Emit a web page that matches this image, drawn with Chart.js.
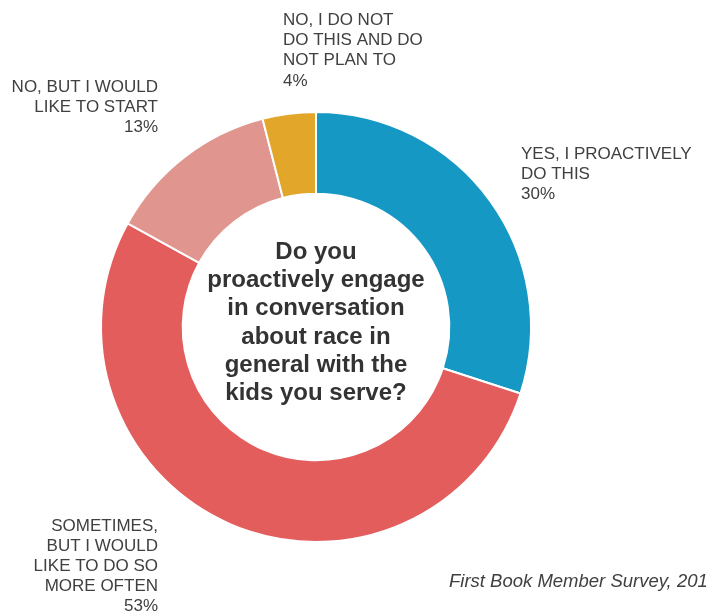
<!DOCTYPE html>
<html>
<head>
<meta charset="utf-8">
<script src="https://cdn.jsdelivr.net/npm/chart.js@4"></script>
<style>
  html, body { margin: 0; padding: 0; background: #fff; }
  canvas { display: block; }
</style>
</head>
<body>
<canvas id="myChart" width="708" height="612"></canvas>
<script>
// Survey answers, clockwise from 12 o'clock
const answers = [
    ['YES, I PROACTIVELY', 'DO THIS'],
    ['SOMETIMES,', 'BUT I WOULD', 'LIKE TO DO SO', 'MORE OFTEN'],
    ['NO, BUT I WOULD', 'LIKE TO START'],
    ['NO, I DO NOT', 'DO THIS AND DO', 'NOT PLAN TO']
];
const shares = [30, 53, 13, 4];
const sliceColors = ['#1598C3', '#E35D5D', '#E0968F', '#E2A62A'];

const question = ['Do you', 'proactively engage', 'in conversation', 'about race in', 'general with the', 'kids you serve?'];
const source = 'First Book Member Survey, 2019';

// where each answer label sits (x, first line y, alignment)
const labelSpots = [
    { x: 521, y: 154, align: 'left', gap: 20.3 },
    { x: 158, y: 526, align: 'right', gap: 20.2 },
    { x: 158, y: 87, align: 'right', gap: 20 },
    { x: 283, y: 20, align: 'left', gap: 20.4 }
];

const textColor = '#404040';

const outsideLabels = {
    id: 'outsideLabels',
    afterDraw(chart) {
        const ctx = chart.ctx;
        const arcs = chart.getDatasetMeta(0).data;
        ctx.save();
        ctx.fillStyle = textColor;
        ctx.textBaseline = 'middle';

        // answer labels with their percentage
        ctx.font = '17px "Liberation Sans", Arial, sans-serif';
        answers.forEach((lines, i) => {
            const spot = labelSpots[i];
            ctx.textAlign = spot.align;
            const all = lines.concat([shares[i] + '%']);
            all.forEach((t, j) => ctx.fillText(t, spot.x, spot.y + j * spot.gap));
        });

        // question in the hole
        const cx = arcs[0].x, cy = arcs[0].y;
        ctx.fillStyle = '#333333';
        ctx.textAlign = 'center';
        ctx.font = 'bold 24px "Liberation Sans", Arial, sans-serif';
        const lh = 28.3;
        question.forEach((t, j) => {
            ctx.fillText(t, cx, cy - 4 + (j - (question.length - 1) / 2) * lh);
        });

        // source note
        ctx.fillStyle = textColor;
        ctx.textAlign = 'left';
        ctx.font = 'italic 18.5px "Liberation Sans", Arial, sans-serif';
        ctx.fillText(source, 449, 582);
        ctx.restore();
    }
};

const ctx = document.getElementById('myChart').getContext('2d');
new Chart(ctx, {
    type: 'doughnut',
    data: {
        labels: answers.map(a => a.join(' ')),
        datasets: [{
            data: shares,
            backgroundColor: sliceColors,
            borderColor: '#ffffff',
            borderWidth: 2
        }]
    },
    options: {
        responsive: false,
        animation: false,
        cutout: '62%',
        layout: {
            padding: { left: 100, right: 176, top: 111, bottom: 69 }
        },
        plugins: {
            legend: { display: false },
            tooltip: { enabled: false }
        }
    },
    plugins: [outsideLabels]
});
</script>
</body>
</html>
